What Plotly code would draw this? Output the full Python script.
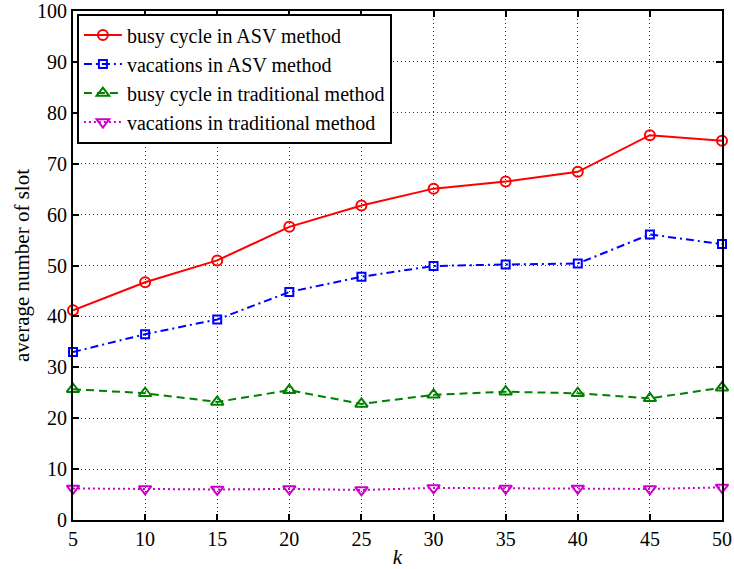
import plotly.graph_objects as go

# Number of nodes k on the horizontal axis
k_values = [5, 10, 15, 20, 25, 30, 35, 40, 45, 50]

# Average number of slots for each scheme
busy_asv = [41.2, 46.7, 51.0, 57.6, 61.8, 65.1, 66.5, 68.4, 75.6, 74.5]
vac_asv = [33.0, 36.5, 39.4, 44.8, 47.8, 49.9, 50.2, 50.4, 56.1, 54.2]
busy_trad = [25.7, 24.9, 23.2, 25.5, 22.8, 24.6, 25.2, 24.9, 23.9, 26.0]
vac_trad = [6.2, 6.1, 6.0, 6.1, 5.9, 6.3, 6.2, 6.2, 6.1, 6.4]

series_names = [
    "busy cycle in ASV method",
    "vacations in ASV method",
    "busy cycle in traditional method",
    "vacations in traditional method",
]

x_ticks = [5, 10, 15, 20, 25, 30, 35, 40, 45, 50]
y_ticks = [0, 10, 20, 30, 40, 50, 60, 70, 80, 90, 100]

FONT = "Liberation Serif"

styles = [
    dict(color="#ff0000", dash="solid", symbol="circle-open", size=10),
    dict(color="#0000ff", dash="8px,4px,2px,4px", symbol="square-open", size=8),
    dict(color="#008000", dash="8px,5px", symbol="triangle-up-open", size=11),
    dict(color="#cc00cc", dash="2px,3px", symbol="triangle-down-open", size=11),
]

fig = go.Figure()
for name, ys, st in zip(series_names, [busy_asv, vac_asv, busy_trad, vac_trad], styles):
    fig.add_trace(go.Scatter(
        x=k_values, y=ys, name=name, mode="lines+markers",
        line=dict(color=st["color"], width=2, dash=st["dash"]),
        marker=dict(symbol=st["symbol"], size=st["size"], color=st["color"],
                    line=dict(color=st["color"], width=2)),
        cliponaxis=False,
    ))

axis_common = dict(
    showline=True, linecolor="black", linewidth=2, mirror="allticks",
    ticks="inside", ticklen=6, tickwidth=2, tickcolor="black",
    showgrid=True, gridcolor="#333333", gridwidth=1, griddash="1px,3px",
    zeroline=False, automargin=False,
    tickfont=dict(family=FONT, size=20, color="black"),
)

fig.update_xaxes(
    range=[5, 50], tickvals=x_ticks, ticktext=[str(v) for v in x_ticks],
    title=dict(text="<i>k</i>", font=dict(family=FONT, size=21, color="black"), standoff=7),
    **axis_common,
)
fig.update_yaxes(
    range=[0, 100], tickvals=y_ticks, ticktext=[str(v) for v in y_ticks],
    title=dict(text="average number of slot", font=dict(family=FONT, size=21, color="black"), standoff=2),
    **axis_common,
)

fig.update_layout(
    width=734, height=569,
    margin=dict(l=73, r=12, t=11, b=49),
    paper_bgcolor="white", plot_bgcolor="white",
    font=dict(family=FONT, size=20, color="black"),
    showlegend=True,
    legend=dict(
        x=0.006, y=0.995, xanchor="left", yanchor="top",
        bgcolor="white", bordercolor="black", borderwidth=2,
        font=dict(family=FONT, size=20, color="black"),
        tracegroupgap=0, itemwidth=38,
    ),
)

fig.write_html("out.html")
